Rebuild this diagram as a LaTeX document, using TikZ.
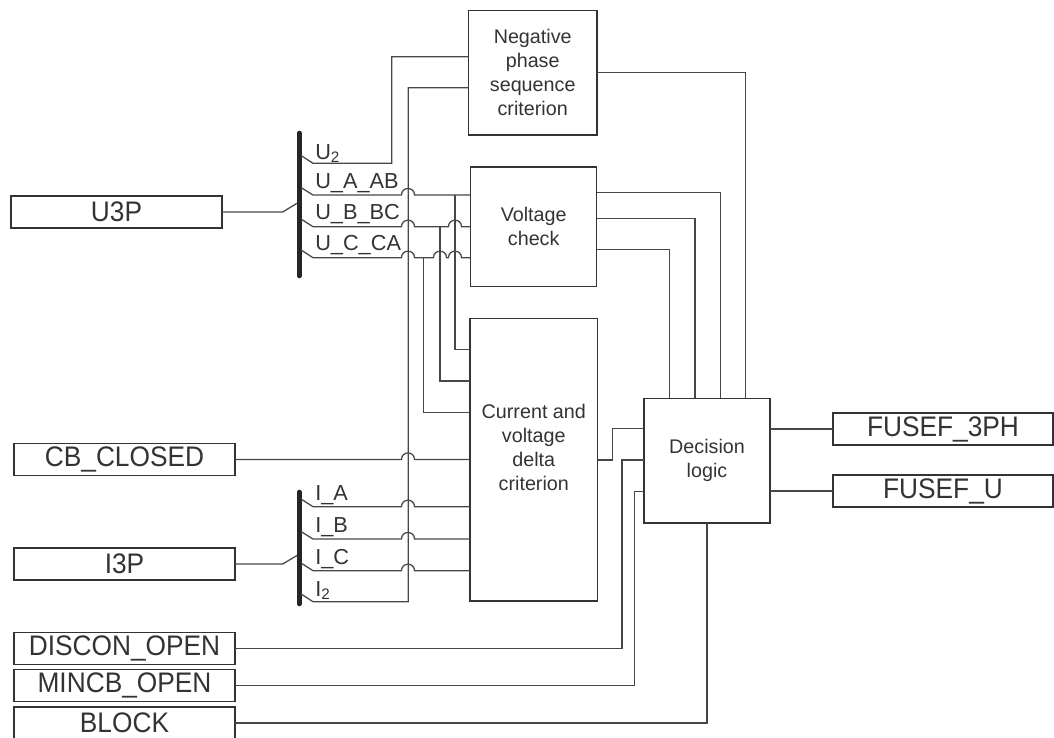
\documentclass[tikz,border=0pt]{standalone}
\usepackage{fontspec}
\setmainfont{Liberation Sans}
\newfontfamily\ionarrow[FakeStretch=0.93]{Liberation Sans}
\definecolor{txt}{HTML}{333333}
\definecolor{wirec}{HTML}{474747}
\definecolor{boxc}{HTML}{333333}
\begin{document}
\begin{tikzpicture}[x=0.75pt,y=-0.75pt,
  wire/.style={draw=wirec,line width=0.95pt},
  iobox/.style={draw=boxc,line width=1.1pt,inner sep=0pt,outer sep=0pt,text=txt,
     font=\ionarrow\fontsize{21.2}{24}\selectfont,minimum width=221*0.75pt,minimum height=32*0.75pt},
  blk/.style={draw=boxc,line width=1.1pt,inner sep=0pt,outer sep=0pt,text=txt,
     font=\fontsize{14.8}{18}\selectfont,align=center},
  blktext/.style={inner sep=0pt,text=txt,font=\fontsize{14.8}{18}\selectfont,align=center},
  sig/.style={anchor=base west,text=txt,font=\fontsize{16.3}{18}\selectfont,inner sep=0pt},
  bus/.style={line width=3.4pt,draw=black!85,line cap=round}]

\useasboundingbox (0,0) rectangle (1054,738);

% input / output boxes
\node[iobox,minimum width=211*0.75pt] (u3p) at (116.5,212) {U3P};
\node[iobox] (cbc) at (124.5,459.5) {CB\_CLOSED};
\node[iobox] (i3p) at (124.5,564) {I3P};
\node[iobox] (discon) at (124.5,648.5) {DISCON\_OPEN};
\node[iobox] (mincb) at (124.5,685.5) {MINCB\_OPEN};
\node[iobox] (block) at (124.5,723) {BLOCK};
\node[iobox,minimum width=220*0.75pt] (f3ph) at (943,429) {FUSEF\_3PH};
\node[iobox,minimum width=220*0.75pt] (fu) at (943,491) {FUSEF\_U};

% function blocks
\node[blk,minimum width=128.7*0.75pt,minimum height=124.3*0.75pt] (nps) at (532.7,72.8)
  {Negative\\phase\\sequence\\criterion};
\node[blk,minimum width=126*0.75pt,minimum height=119.7*0.75pt] (vc) at (533.7,226.8)
  {Voltage\\check};
\node[blk,minimum width=127.7*0.75pt,minimum height=282.7*0.75pt] (cvd) at (533.8,459.7) {};
\node[blktext] (cvdtext) at (533.8,447.5) {Current and\\voltage\\delta\\criterion};
\node[blk,minimum width=126*0.75pt,minimum height=124.7*0.75pt] (dl) at (707,460.7)
  {Decision\\logic};

% buses
\coordinate (ubt) at (299.3,133);
\coordinate (ubb) at (299.3,276);
\coordinate (ibt) at (299.3,492);
\coordinate (ibb) at (299.3,604);
\draw[bus] (ubt) -- (ubb);
\draw[bus] (ibt) -- (ibb);

% bus feeds
\draw[wire] (u3p.east) -- (282.7,212) -- (297,203.3);
\draw[wire] (i3p.east) -- (282.7,564) -- (297,555.5);

% signal labels
\node[sig] (lU2) at (315,159.5) {U\textsubscript{2}};
\node[sig] (lUA) at (315,188.3) {U\_A\_AB};
\node[sig] (lUB) at (315,220) {U\_B\_BC};
\node[sig] (lUC) at (315,251) {U\_C\_CA};
\node[sig] (lIA) at (315,500.5) {I\_A};
\node[sig] (lIB) at (315,532.5) {I\_B};
\node[sig] (lIC) at (315,564.5) {I\_C};
\node[sig] (lI2) at (315,596) {I\textsubscript{2}};

% U taps
\draw[wire] (301,155.5) -- (313,163.3) -- (391.7,163.3) -- (391.7,56.7) -- (nps.west |- 0,56.7);
\draw[wire] (301,187.5) -- (313,195) -- (401.5,195)
  .. controls (401.5,186.3) and (414.5,186.3) .. (414.5,195) -- (vc.west |- 0,195);
\draw[wire] (301,219) -- (313,226.7) -- (401.5,226.7)
  .. controls (401.5,218) and (414.5,218) .. (414.5,226.7) -- (448.5,226.7)
  .. controls (448.5,218) and (461.5,218) .. (461.5,226.7) -- (vc.west |- 0,226.7);
\draw[wire] (301,250) -- (313,257.7) -- (401.5,257.7)
  .. controls (401.5,249) and (414.5,249) .. (414.5,257.7) -- (433.5,257.7)
  .. controls (433.5,249) and (446.5,249) .. (446.5,257.7) -- (448.5,257.7)
  .. controls (448.5,249) and (461.5,249) .. (461.5,257.7) -- (vc.west |- 0,257.7);
% branches to current and voltage delta criterion
\draw[wire] (455,195) -- (455,349.3) -- (cvd.west |- 0,349.3);
\draw[wire] (440,226.7) -- (440,381) -- (cvd.west |- 0,381);
\draw[wire] (423.3,257.7) -- (423.3,412.7) -- (cvd.west |- 0,412.7);

% CB_CLOSED
\draw[wire] (cbc.east) -- (401.5,459.5)
  .. controls (401.5,450.8) and (414.5,450.8) .. (414.5,459.5) -- (cvd.west |- cbc.east);

% I taps
\draw[wire] (301,499) -- (313,506.7) -- (401.5,506.7)
  .. controls (401.5,498) and (414.5,498) .. (414.5,506.7) -- (cvd.west |- 0,506.7);
\draw[wire] (301,531.5) -- (313,539) -- (401.5,539)
  .. controls (401.5,530.3) and (414.5,530.3) .. (414.5,539) -- (cvd.west |- 0,539);
\draw[wire] (301,563) -- (313,570.7) -- (401.5,570.7)
  .. controls (401.5,562) and (414.5,562) .. (414.5,570.7) -- (cvd.west |- 0,570.7);
\draw[wire] (301,594) -- (313,601.7) -- (408.3,601.7) -- (408.3,87.7) -- (nps.west |- 0,87.7);

% to decision logic
\draw[wire] (nps.east |- 0,72.7) -| (dl.north -| 745.7,0);
\draw[wire] (vc.east |- 0,192.7) -| (dl.north -| 720.3,0);
\draw[wire] (vc.east |- 0,218.3) -| (dl.north -| 695,0);
\draw[wire] (vc.east |- 0,249.3) -| (dl.north -| 669.3,0);
\draw[wire] (cvd.east |- 0,460) -- (612.7,460) |- (dl.west |- 0,428.3);
\draw[wire] (discon.east) -- (622,648.5) |- (dl.west |- 0,460);
\draw[wire] (mincb.east) -- (634.7,685.5) |- (dl.west |- 0,491.7);
\draw[wire] (block.east) -| (dl.south);

% outputs
\draw[wire] (dl.east |- f3ph.west) -- (f3ph.west);
\draw[wire] (dl.east |- fu.west) -- (fu.west);
\end{tikzpicture}
\end{document}
